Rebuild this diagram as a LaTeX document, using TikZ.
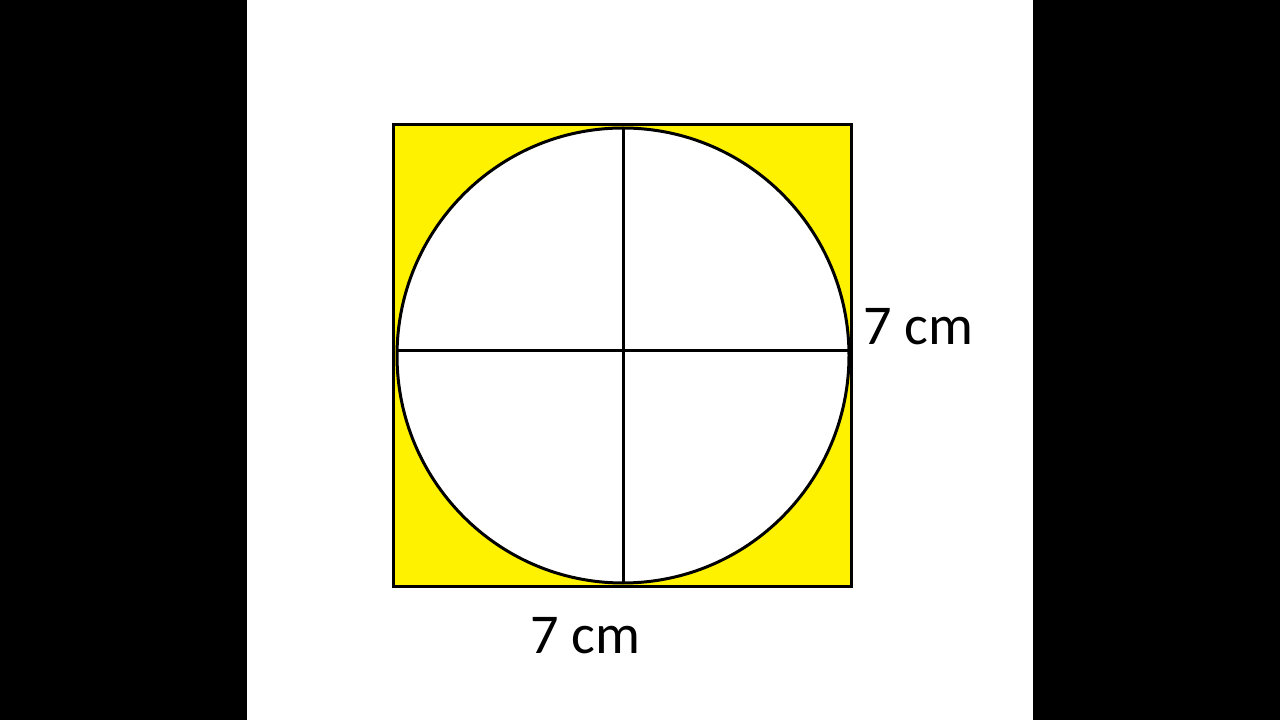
\documentclass[tikz,border=0pt]{standalone}
\usepackage{fontspec}
\setmainfont{Carlito}
\begin{document}
\begin{tikzpicture}
  \tikzstyle{page} = [fill=white, draw=none]
  \tikzstyle{plate} = [draw, fill=yellow, line width = 0.6mm]
  \tikzstyle{disc} = [draw, fill=white, line width = 0.6mm]
  \tikzstyle{diameter} = [-, line width = 0.6mm]
  \tikzstyle{measure} = [inner sep=0pt, font=\fontsize{32}{38}\selectfont]

  \fill[black] (0,0) rectangle (25.6,14.4);
  \fill[page] (4.94,0) rectangle (20.66,14.4);

  \draw[plate] (7.86,2.66) rectangle (17.02,11.9);
  \draw[disc] (12.46,7.29) ellipse [x radius=4.52, y radius=4.55];

  \coordinate (top) at (12.46,11.82);
  \coordinate (bottom) at (12.46,2.74);
  \coordinate (left) at (7.94,7.38);
  \coordinate (right) at (16.98,7.38);

  \draw[diameter] (top) to (bottom);
  \draw[diameter] (left) to (right);

  \node [measure] at (18.37,7.86) (side_right) {7 cm};
  \node [measure] at (11.7,1.68) (side_bottom) {7 cm};
\end{tikzpicture}
\end{document}
